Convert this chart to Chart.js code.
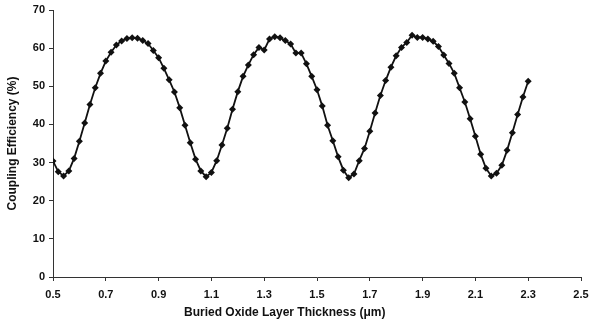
<!DOCTYPE html>
<html>
<head>
<meta charset="utf-8">
<script src="https://cdn.jsdelivr.net/npm/chart.js@4"></script>
<style>
  html, body { margin: 0; padding: 0; background: #fff; }
  #wrap { position: relative; width: 589px; height: 326px; }
  #xTitle {
    position: absolute; left: 184px; width: 200px; top: 305px;
    text-align: center; white-space: nowrap;
    font: bold 12px "Liberation Sans", Arial, sans-serif; color: #111;
  }
</style>
</head>
<body>
<div id="wrap">
  <canvas id="couplingChart" width="589" height="326"></canvas>
  <div id="xTitle">Buried Oxide Layer Thickness (&mu;m)</div>
</div>
<script>
// Buried oxide thickness (um)
const thickness = [
    0.50, 0.52, 0.54, 0.56, 0.58, 0.60, 0.62, 0.64, 0.66, 0.68,
    0.70, 0.72, 0.74, 0.76, 0.78, 0.80, 0.82, 0.84, 0.86, 0.88,
    0.90, 0.92, 0.94, 0.96, 0.98, 1.00, 1.02, 1.04, 1.06, 1.08,
    1.10, 1.12, 1.14, 1.16, 1.18, 1.20, 1.22, 1.24, 1.26, 1.28,
    1.30, 1.32, 1.34, 1.36, 1.38, 1.40, 1.42, 1.44, 1.46, 1.48,
    1.50, 1.52, 1.54, 1.56, 1.58, 1.60, 1.62, 1.64, 1.66, 1.68,
    1.70, 1.72, 1.74, 1.76, 1.78, 1.80, 1.82, 1.84, 1.86, 1.88,
    1.90, 1.92, 1.94, 1.96, 1.98, 2.00, 2.02, 2.04, 2.06, 2.08,
    2.10, 2.12, 2.14, 2.16, 2.18, 2.20, 2.22, 2.24, 2.26, 2.28,
    2.30
];

// Coupling efficiency (%)
const efficiency = [
    30.4, 27.6, 26.5, 27.8, 31.1, 35.6, 40.4, 45.2, 49.6, 53.4,
    56.6, 58.9, 60.8, 61.9, 62.5, 62.7, 62.6, 62.0, 61.2, 59.4,
    57.5, 54.7, 51.7, 48.5, 44.4, 39.8, 35.2, 30.9, 27.8, 26.3,
    27.4, 30.5, 34.6, 39.0, 44.0, 48.6, 52.6, 55.6, 58.3, 60.2,
    59.5, 62.4, 63.0, 62.7, 62.0, 61.1, 58.7, 58.7, 55.9, 52.6,
    49.1, 44.8, 39.8, 35.7, 31.5, 28.0, 26.0, 27.0, 30.5, 33.7,
    38.2, 43.0, 47.6, 51.5, 55.0, 58.0, 60.2, 61.5, 63.4, 62.8,
    62.8, 62.4, 61.8, 60.4, 58.2, 56.0, 53.4, 49.6, 45.9, 41.5,
    36.9, 32.2, 28.5, 26.5, 27.2, 29.3, 33.2, 37.8, 42.6, 47.2,
    51.3
];

const xMin = 0.5, xMax = 2.5, xStep = 0.2;
const yMin = 0, yMax = 70, yStep = 10;

const font = { family: '"Liberation Sans", Arial, sans-serif', weight: 'bold' };

const points = thickness.map((t, i) => ({ x: t, y: efficiency[i] }));

new Chart(document.getElementById('couplingChart'), {
    type: 'line',
    data: {
        datasets: [{
            data: points,
            borderColor: '#111',
            borderWidth: 1.8,
            backgroundColor: '#111',
            pointStyle: 'rectRot',
            pointRadius: 3.5,
            pointBorderWidth: 0,
            tension: 0
        }]
    },
    options: {
        responsive: false,
        animation: false,
        layout: { padding: { top: 10, right: 8, left: 0, bottom: 0 } },
        plugins: {
            legend: { display: false },
            tooltip: { enabled: false }
        },
        scales: {
            x: {
                type: 'linear',
                min: xMin,
                max: xMax,
                ticks: {
                    stepSize: xStep,
                    color: '#111',
                    font: { ...font, size: 11 },
                    padding: 7,
                    maxRotation: 0,
                    callback: v => v.toFixed(1)
                },
                grid: { drawOnChartArea: false, tickLength: 4, color: '#333' },
                border: { display: true, color: '#333', width: 1 },
                afterFit: s => {
                    s.height = 49;
                    s.paddingLeft = 0;
                    s.paddingRight = 0;
                }
            },
            y: {
                min: yMin,
                max: yMax,
                ticks: {
                    stepSize: yStep,
                    color: '#111',
                    font: { ...font, size: 11 },
                    padding: 4
                },
                grid: { drawOnChartArea: false, tickLength: 4, color: '#333' },
                border: { display: true, color: '#333', width: 1 },
                title: {
                    display: true,
                    text: 'Coupling Efficiency (%)',
                    color: '#111',
                    font: { ...font, size: 12 },
                    padding: { top: 5, bottom: 4 }
                },
                afterFit: s => {
                    s.width = 53;
                    s.paddingTop = 0;
                    s.paddingBottom = 0;
                }
            }
        }
    }
});
</script>
</body>
</html>
